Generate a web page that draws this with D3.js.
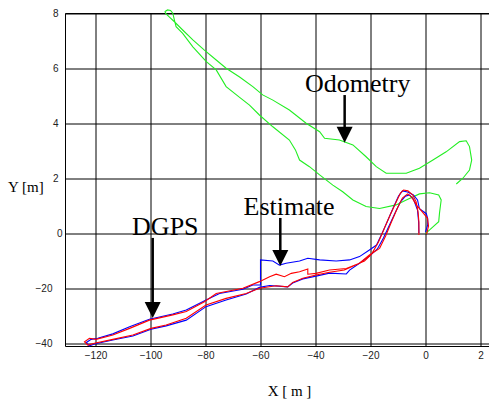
<!DOCTYPE html>
<html>
<head>
<meta charset="utf-8">
<script src="https://cdn.jsdelivr.net/npm/d3@7"></script>
<style>
    body { margin: 0; background: #fff; }
    svg { display: block; }
</style>
</head>
<body>
<div id="chart"></div>
<script>
// tick values: odometry plot (upper/right) and main plot (lower/left) share one frame
const yTicksOdo = [2, 4, 6, 8];
const yTicksMain = [-40, -20, 0];
const xTicksMain = [-120, -100, -80, -60, -40, -20, 0];
const xTicksOdo = [2];

// odometry track [x, y] in m (odometry scale)
const odometry = [
    [0, 0], [0.15, 0.13], [0.48, 0.43], [0.51, 0.75], [0.57, 1.22], [0.48, 1.40], [0.15, 1.48],
    [-0.22, 1.44], [-0.70, 1.22], [-1.07, 1.04], [-1.67, 0.91], [-2.16, 0.98], [-2.64, 1.22],
    [-3.01, 1.52], [-3.37, 1.76], [-3.85, 2.13], [-4.22, 2.43], [-4.58, 2.67], [-4.73, 3.04],
    [-4.95, 3.40], [-5.55, 3.88], [-6.04, 4.31], [-6.40, 4.67], [-6.76, 4.95], [-7.25, 5.34],
    [-7.61, 5.95], [-7.97, 6.25], [-8.46, 6.79], [-8.83, 7.28], [-9.07, 7.52], [-9.13, 7.76],
    [-9.19, 8.01], [-9.27, 8.11], [-9.38, 8.13], [-9.47, 8.07], [-9.45, 8.0], [-9.31, 7.87],
    [-9.13, 7.70], [-8.83, 7.40], [-8.46, 7.04], [-8.04, 6.67], [-7.61, 6.31], [-7.25, 6.01],
    [-6.76, 5.69], [-6.28, 5.34], [-5.92, 5.04], [-5.55, 4.85], [-4.95, 4.49], [-4.34, 4.01],
    [-3.85, 3.70], [-3.67, 3.46], [-3.13, 3.40], [-2.64, 3.22], [-2.16, 2.79], [-1.79, 2.43],
    [-1.43, 2.19], [-0.70, 2.19], [-0.22, 2.37], [0.27, 2.67], [0.75, 2.97], [1.24, 3.34],
    [1.48, 3.37], [1.6, 3.16], [1.68, 2.67], [1.6, 2.31], [1.36, 2.01], [1.12, 1.80]
];

// DGPS track [x, y] in m (main scale)
const dgps = [
    [0, 0.5], [0.8, 3.1], [0.8, 5.4], [0.3, 7.2], [-2.2, 9.0], [-2.9, 12.2], [-4.4, 14.0],
    [-6.5, 15.1], [-8.4, 15.5], [-9.8, 13.6], [-11.6, 9.6], [-13.5, 5.3], [-15.6, 0.5],
    [-17.8, -4.2], [-20.4, -6.0], [-24.0, -8.4], [-27.6, -9.6], [-32.5, -10.0], [-38.5, -9.6],
    [-42.8, -9.0], [-45.8, -10.0], [-50.7, -10.8], [-53.1, -11.5], [-55.5, -10.0], [-60.0, -9.6],
    [-60.0, -18.7], [-62.8, -18.7], [-66.4, -20.3], [-74.9, -21.8], [-79.8, -24.2], [-87.0, -27.8],
    [-91.9, -29.3], [-100.4, -31.2], [-107.6, -33.9], [-113.7, -36.5], [-119.2, -38.1],
    [-121.6, -38.5], [-123.4, -39.7], [-122.2, -40.9], [-120.4, -40.2], [-113.7, -38.7],
    [-106.4, -37.3], [-99.8, -34.8], [-94.3, -33.6], [-87.0, -31.5], [-79.8, -26.6],
    [-72.5, -24.2], [-65.2, -22.0], [-60.4, -19.6], [-56.7, -18.9], [-50.1, -19.4],
    [-48.3, -18.0], [-44.6, -16.5], [-39.8, -15.5], [-34.9, -14.4], [-28.8, -14.7],
    [-27.6, -13.3], [-24.0, -10.8], [-20.4, -8.2], [-17.5, -5.6], [-15.3, -1.6], [-13.1, 3.1],
    [-10.9, 7.8], [-9.1, 11.5], [-7.3, 13.6], [-5.8, 14.0], [-4.4, 12.5], [-2.9, 8.5],
    [-2.5, 4.2], [-2.4, 0.2]
];

// estimate track [x, y] in m (main scale)
const estimate = [
    [-2.4, -0.5], [-2.4, 4.2], [-2.7, 7.8], [-3.4, 11.5], [-4.6, 14.0], [-6.4, 15.5], [-8.0, 15.8],
    [-9.1, 14.7], [-10.5, 11.8], [-12.7, 7.1], [-14.9, 2.0], [-17.1, -3.1], [-19.6, -7.5],
    [-22.2, -10.0], [-24.7, -11.1], [-28.8, -12.7], [-34.9, -13.3], [-39.8, -14.5], [-42.8, -14.8],
    [-42.8, -12.9], [-45.8, -13.9], [-48.8, -14.5], [-51.3, -15.7], [-54.3, -14.8], [-56.7, -15.7],
    [-60.4, -17.5], [-66.4, -19.9], [-76.1, -21.8], [-80.4, -24.8], [-87.0, -28.4], [-91.9, -29.6],
    [-100.4, -31.5], [-107.6, -34.5], [-113.7, -36.9], [-119.8, -38.5], [-122.2, -38.1],
    [-124.0, -39.4], [-122.8, -40.6], [-120.4, -39.9], [-113.7, -38.5], [-106.4, -36.9],
    [-99.8, -34.5], [-94.3, -33.3], [-87.0, -30.8], [-79.8, -26.0], [-72.5, -23.6],
    [-65.2, -21.8], [-60.4, -19.9], [-54.3, -19.0], [-50.1, -19.4], [-48.3, -17.8],
    [-44.6, -16.3], [-39.8, -15.1], [-34.9, -14.1], [-29.5, -13.3], [-24.0, -10.8],
    [-20.4, -7.8], [-16.7, -5.4], [-14.5, -0.9], [-12.4, 4.2], [-10.2, 9.3], [-8.4, 12.9],
    [-6.5, 14.4], [-5.1, 13.3], [-3.3, 10.4], [-1.1, 7.8], [0.7, 5.6], [1.1, 2.7], [0.4, -0.2]
];

// labelled arrows: tip in data units, text offset from tip in px
const notes = [
    { label: 'Odometry', plot: 'odo', tip: [-2.94, 3.30], dx: -39.6, dy: -50.4, len: 47.7 },
    { label: 'Estimate', plot: 'main', tip: [-52.8, -11.8], dx: -36.7, dy: -51, len: 48 },
    { label: 'DGPS', plot: 'main', tip: [-99.2, -30.7], dx: -20.6, dy: -83, len: 80 }
];

const width = 489, height = 401;
const frameLeft = 65.5, frameTop = 13.5, frameBottom = 346.5, frameRight = width;

const svg = d3.select('#chart').append('svg')
    .attr('width', width)
    .attr('height', height);

const x = d3.scaleLinear().domain([-120, 0]).range([95.5, 425.5]);
const y = d3.scaleLinear().domain([-40, 0]).range([343.5, 233.5]);
const xo = d3.scaleLinear().domain([0, 2]).range([425.5, 480.5]);
const yo = d3.scaleLinear().domain([0, 8]).range([233.5, 13.5]);

const gridStyle = g => g
    .call(s => s.select('.domain').remove())
    .call(s => s.selectAll('.tick line').attr('stroke', '#000').attr('stroke-width', 1))
    .call(s => s.selectAll('.tick text')
        .attr('fill', '#222')
        .style('font-family', '"Liberation Sans", Arial, sans-serif')
        .style('font-size', '10px'));

// grid + tick labels
svg.append('g')
    .attr('transform', `translate(0,${frameBottom})`)
    .call(d3.axisBottom(x).tickValues(xTicksMain).tickSizeInner(-(frameBottom - frameTop)).tickSizeOuter(0).tickPadding(5.5).tickFormat(d3.format('d')))
    .call(gridStyle);

svg.append('g')
    .attr('transform', `translate(0,${frameBottom})`)
    .call(d3.axisBottom(xo).tickValues(xTicksOdo).tickSizeInner(-(frameBottom - frameTop)).tickSizeOuter(0).tickPadding(5.5).tickFormat(d3.format('d')))
    .call(gridStyle);

svg.append('g')
    .attr('transform', `translate(${frameLeft},0)`)
    .call(d3.axisLeft(yo).tickValues(yTicksOdo).tickSizeInner(-(frameRight - frameLeft)).tickSizeOuter(0).tickPadding(7).tickFormat(d3.format('d')))
    .call(gridStyle);

svg.append('g')
    .attr('transform', `translate(${frameLeft},0)`)
    .call(d3.axisLeft(y).tickValues(yTicksMain).tickSizeInner(-(frameRight - frameLeft)).tickSizeOuter(0).tickPadding(13).tickFormat(d3.format('d')))
    .call(gridStyle)
    .call(g => g.selectAll('.tick text').filter(d => d === 0).attr('x', -3));

// frame
svg.append('path')
    .attr('d', `M${frameRight},${frameTop}H${frameLeft}V${frameBottom}H${frameRight}`)
    .attr('fill', 'none')
    .attr('stroke', '#000')
    .attr('stroke-width', 1);

// tracks
const lineOdo = d3.line().x(d => xo(d[0])).y(d => yo(d[1]));
const lineMain = d3.line().x(d => x(d[0])).y(d => y(d[1]));

svg.append('path').datum(odometry)
    .attr('d', lineOdo)
    .attr('fill', 'none')
    .attr('stroke', '#22ee22')
    .attr('stroke-width', 1.1);

svg.append('path').datum(dgps)
    .attr('d', lineMain)
    .attr('fill', 'none')
    .attr('stroke', '#0000ff')
    .attr('stroke-width', 1.1);

svg.append('path').datum(estimate)
    .attr('d', lineMain)
    .attr('fill', 'none')
    .attr('stroke', '#ff0000')
    .attr('stroke-width', 1.1);

// annotations
notes.forEach(n => {
    const sx = n.plot === 'odo' ? xo : x;
    const sy = n.plot === 'odo' ? yo : y;
    const tx = sx(n.tip[0]), ty = sy(n.tip[1]);
    const g = svg.append('g');
    g.append('line')
        .attr('x1', tx).attr('x2', tx)
        .attr('y1', ty - n.len).attr('y2', ty - 14)
        .attr('stroke', '#000')
        .attr('stroke-width', 2.5);
    g.append('path')
        .attr('d', `M${tx},${ty}L${tx - 8},${ty - 16}L${tx + 8},${ty - 16}Z`)
        .attr('fill', '#000');
    g.append('text')
        .attr('x', tx + n.dx)
        .attr('y', ty + n.dy)
        .style('font-family', '"Liberation Serif", "Times New Roman", serif')
        .style('font-size', '26px')
        .text(n.label);
});

// axis titles
svg.append('text')
    .attr('x', 8).attr('y', 192)
    .style('font-family', '"Liberation Serif", "Times New Roman", serif')
    .style('font-size', '15px')
    .text('Y [m]');

svg.append('text')
    .attr('x', 289.5).attr('y', 396)
    .attr('text-anchor', 'middle')
    .style('font-family', '"Liberation Serif", "Times New Roman", serif')
    .style('font-size', '15px')
    .text('X [ m ]');
</script>
</body>
</html>
